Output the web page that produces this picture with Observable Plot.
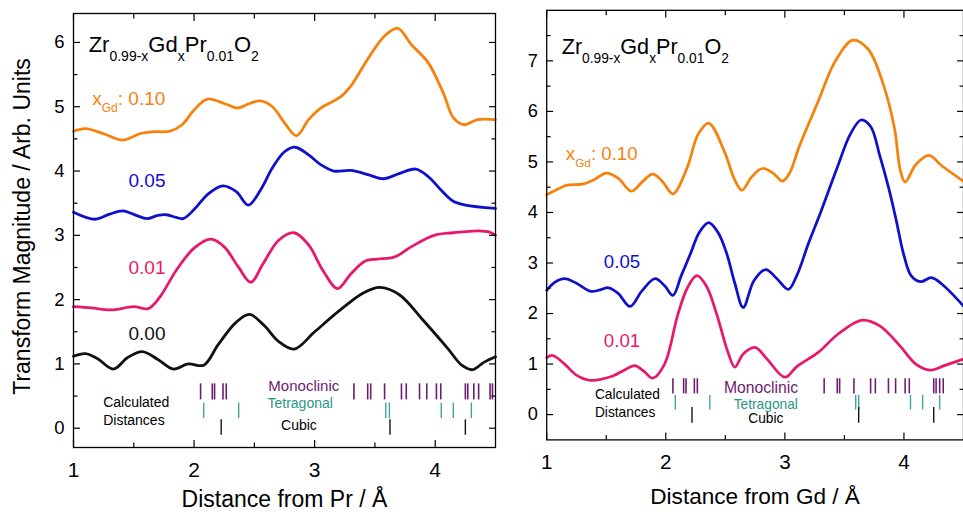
<!DOCTYPE html>
<html><head><meta charset="utf-8">
<script src="https://cdn.jsdelivr.net/npm/d3@7"></script>
<script src="https://cdn.jsdelivr.net/npm/@observablehq/plot@0.6"></script>
<style>
html,body{margin:0;padding:0;background:#fff;overflow:hidden;}
#wrap{position:relative;width:963px;height:517px;overflow:hidden;}
#left,#right{position:absolute;top:0;}
#left{left:0px} #right{left:500px}
</style></head><body><div id="wrap"><div id="left"></div><div id="right"></div></div>
<script>
// ---------- Left panel: distance from Pr ----------
const prDist010 = [1.0,1.1,1.25,1.41,1.55,1.65,1.8,1.9,2.0,2.11,2.25,2.36,2.46,2.55,2.65,2.75,2.85,2.95,3.05,3.15,3.22,3.3,3.45,3.58,3.69,3.8,3.94,4.07,4.15,4.24,4.35,4.5];
const prMag010  = [4.62,4.66,4.58,4.48,4.58,4.61,4.62,4.72,4.95,5.12,5.05,4.98,5.05,5.09,5.0,4.75,4.55,4.8,4.98,5.08,5.16,5.32,5.77,6.1,6.22,5.97,5.69,5.2,4.83,4.72,4.8,4.8];
const prDist005 = [1.0,1.18,1.3,1.41,1.52,1.61,1.7,1.77,1.85,1.91,2.0,2.12,2.24,2.35,2.45,2.55,2.65,2.75,2.84,2.95,3.05,3.16,3.3,3.45,3.57,3.7,3.84,3.95,4.05,4.15,4.25,4.5];
const prMag005  = [3.36,3.25,3.33,3.38,3.31,3.26,3.31,3.32,3.28,3.26,3.4,3.65,3.77,3.68,3.47,3.7,4.05,4.3,4.37,4.25,4.1,4.0,4.01,3.94,3.88,3.96,4.03,3.9,3.7,3.53,3.47,3.42];
const prDist001 = [1.0,1.15,1.31,1.5,1.62,1.72,1.85,2.0,2.14,2.25,2.37,2.47,2.57,2.7,2.83,2.95,3.07,3.19,3.3,3.42,3.52,3.66,3.8,3.99,4.15,4.36,4.45,4.5];
const prMag001  = [1.89,1.87,1.84,1.89,1.86,2.05,2.45,2.8,2.94,2.82,2.5,2.27,2.55,2.92,3.04,2.85,2.45,2.17,2.4,2.6,2.63,2.66,2.82,3.0,3.04,3.07,3.05,3.0];
const prDist000 = [1.0,1.1,1.2,1.33,1.45,1.57,1.7,1.83,1.95,2.08,2.2,2.35,2.46,2.58,2.7,2.83,3.0,3.2,3.4,3.54,3.7,3.9,4.1,4.22,4.31,4.4,4.5];
const prMag000  = [1.12,1.16,1.08,0.92,1.1,1.19,1.07,0.92,1.0,0.98,1.3,1.65,1.77,1.6,1.35,1.23,1.5,1.82,2.1,2.19,2.08,1.68,1.25,0.98,0.91,1.02,1.11];

// ---------- Right panel: distance from Gd ----------
const gdDist010 = [1.0,1.1,1.17,1.3,1.4,1.5,1.6,1.71,1.8,1.89,1.97,2.06,2.18,2.27,2.36,2.49,2.58,2.64,2.72,2.81,2.9,2.98,3.04,3.12,3.28,3.42,3.57,3.7,3.83,3.92,3.97,4.01,4.1,4.21,4.32,4.5];
const gdMag010  = [4.35,4.47,4.54,4.56,4.65,4.78,4.68,4.42,4.6,4.76,4.62,4.37,4.89,5.54,5.77,5.22,4.64,4.44,4.7,4.87,4.78,4.62,4.78,5.3,6.2,6.98,7.41,7.23,6.51,5.67,4.83,4.6,4.95,5.13,4.92,4.62];
const gdDist005 = [1.0,1.07,1.15,1.25,1.37,1.45,1.52,1.6,1.7,1.8,1.91,1.99,2.06,2.13,2.21,2.28,2.36,2.44,2.51,2.58,2.65,2.74,2.84,2.93,3.03,3.1,3.2,3.3,3.44,3.55,3.64,3.72,3.8,3.87,3.93,4.0,4.06,4.14,4.23,4.32,4.5];
const gdMag005  = [2.46,2.62,2.69,2.6,2.44,2.47,2.51,2.4,2.14,2.45,2.69,2.55,2.36,2.75,3.2,3.6,3.8,3.6,3.2,2.6,2.12,2.65,2.87,2.7,2.48,2.75,3.4,4.0,4.89,5.55,5.83,5.7,5.1,4.5,3.9,3.15,2.75,2.63,2.71,2.58,2.15];
const gdDist001 = [1.0,1.05,1.15,1.25,1.36,1.55,1.65,1.74,1.82,1.89,1.99,2.1,2.18,2.26,2.34,2.43,2.52,2.58,2.65,2.75,2.85,3.0,3.1,3.28,3.45,3.65,3.8,3.97,4.1,4.22,4.35,4.5];
const gdMag001  = [1.13,1.17,1.0,0.78,0.68,0.76,0.88,0.97,0.85,0.72,1.0,1.97,2.5,2.75,2.55,1.97,1.25,0.94,1.2,1.33,1.1,0.74,0.95,1.23,1.6,1.87,1.75,1.35,1.0,0.88,0.98,1.1];

// ---------- Calculated distances (Å) ----------
const prMonoclinic = [2.054,2.151,2.17,2.24,2.267,3.326,3.44,3.465,3.58,3.72,3.76,3.87,3.93,4.01,4.046,4.25,4.27,4.32,4.36,4.455,4.475];
const prTetragonal = [2.08,2.37,3.59,3.62,4.05,4.15,4.30];
const prCubic      = [2.225,3.625,4.25];
const gdMonoclinic = [2.06,2.15,2.17,2.24,2.265,3.33,3.44,3.46,3.58,3.72,3.76,3.87,3.93,4.01,4.045,4.25,4.27,4.30,4.33];
const gdTetragonal = [2.08,2.37,3.595,3.62,4.055,4.157,4.30];
const gdCubic      = [2.22,3.62,4.25];

// tick labels
const xTicks = [1,2,3,4];
const xMinor = [1.5,2.5,3.5];
const prYTicks = [0,1,2,3,4,5,6];
const prYMinor = [0.5,1.5,2.5,3.5,4.5,5.5];
const gdYTicks = [0,1,2,3,4,5,6,7];
const gdYMinor = [0.5,1.5,2.5,3.5,4.5,5.5,6.5,7.5];

const colors = {"0.10":"#f6820d","0.05":"#1010cc","0.01":"#e8196b","0.00":"#111111"};
const monoColor = "#6e1c6e", tetraColor = "#2a9686", tetraTick = "#3aa898";
const FONT = "'Liberation Sans', Arial, Helvetica, sans-serif";

function table(xs, ys, key){ return xs.map((x,i)=>({x, y: ys[i], key})); }

function rich(svg, px, py, parts, fill){
  const t = d3.select(svg).append("text").attr("x",px).attr("y",py).attr("fill",fill)
    .attr("text-anchor","start").style("font-family",FONT);
  let cur = 0;
  for (const [txt,size,shift] of parts){
    t.append("tspan").attr("font-size",size).attr("dy",shift-cur).text(txt);
    cur = shift;
  }
}

function panel(opts){
  const {series, mono, tetra, cubic, rows, yDomain, yTicks, yMinor, width, marginLeft, marginRight, marginTop,
         labels, calcStart, calcMid, xLabel, xLabelDy} = opts;
  const lineData = series.flatMap(s => table(s.x, s.y, s.key));
  const tickAxes = (anchor, ticks, size) => anchor==="top"||anchor==="bottom"
    ? Plot.axisX({anchor, ticks, tickSize:-size, tickFormat:()=>"", label:null, strokeWidth:1.2})
    : Plot.axisY({anchor, ticks, tickSize:-size, tickFormat:()=>"", label:null, strokeWidth:1.2});
  const plot = Plot.plot({
    width, height:517, marginLeft, marginRight, marginTop, marginBottom:70,
    style:{fontFamily:FONT, color:"#000", background:"#fff"},
    x:{domain:[1,4.5]},
    y:{domain:yDomain},
    marks:[
      Plot.ruleX(mono, {x:d=>d, y1:rows.mono[0], y2:rows.mono[1], stroke:monoColor, strokeWidth:1.6}),
      Plot.ruleX(tetra, {x:d=>d, y1:rows.tetra[0], y2:rows.tetra[1], stroke:tetraTick, strokeWidth:1.4}),
      Plot.ruleX(cubic, {x:d=>d, y1:rows.cubic[0], y2:rows.cubic[1], stroke:"#111", strokeWidth:1.4}),
      Plot.line(lineData, {x:"x", y:"y", z:"key", stroke:d=>colors[d.key], strokeWidth:2.8, curve:"catmull-rom"}),
      Plot.text(labels, {x:"x", y:"y", text:"text", fill:d=>colors[d.text], fontSize:19, textAnchor:"start"}),
      Plot.text(calcStart, {x:"x", y:"y", text:"text", fill:"fill", fontSize:"size", textAnchor:"start"}),
      Plot.text(calcMid, {x:"x", y:"y", text:"text", fill:"fill", fontSize:"size", textAnchor:"middle"}),
      Plot.frame({stroke:"#000", strokeWidth:1.3}),
      Plot.axisX({anchor:"bottom", ticks:xTicks, tickSize:-7, tickPadding:22, fontSize:21, tickFormat:d=>String(d), label:null, strokeWidth:1.2}),
      tickAxes("bottom", xMinor, 4.5), tickAxes("top", xTicks, 7), tickAxes("top", xMinor, 4.5),
      Plot.axisY({anchor:"left", ticks:yTicks, tickSize:-7, tickPadding:16, fontSize:18.5, tickFormat:d=>String(d), label:null, strokeWidth:1.2}),
      tickAxes("left", yMinor, 4.5), tickAxes("right", yTicks, 7), tickAxes("right", yMinor, 4.5),
      Plot.text([xLabel], {frameAnchor:"bottom", text:d=>d, dy:xLabelDy, fontSize:23}),
      ...(opts.yLabel ? [Plot.text([opts.yLabel], {frameAnchor:"left", textAnchor:"middle", text:d=>d, rotate:-90, dx:-51, dy:-4, fontSize:23})] : [])
    ]
  });
  const sx = plot.scale("x"), sy = plot.scale("y");
  rich(plot, sx.apply(opts.formula.x), sy.apply(opts.formula.y),
    [["Zr",22,0],["0.99-x",14,9],["Gd",22,0],["x",14,9],["Pr",22,0],["0.01",14,9],["O",22,0],["2",14,9]], "#000");
  rich(plot, sx.apply(opts.xgd.x), sy.apply(opts.xgd.y),
    [["x",19,0],["Gd",12,7],[": 0.10",19,0]], colors["0.10"]);
  return plot;
}

const left = panel({
  series:[{key:"0.10",x:prDist010,y:prMag010},{key:"0.05",x:prDist005,y:prMag005},
          {key:"0.01",x:prDist001,y:prMag001},{key:"0.00",x:prDist000,y:prMag000}],
  mono:prMonoclinic, tetra:prTetragonal, cubic:prCubic,
  rows:{mono:[0.44,0.69], tetra:[0.15,0.39], cubic:[-0.11,0.13]},
  yDomain:[-0.3,6.45], yTicks:prYTicks, yMinor:prYMinor,
  width:500, marginLeft:73, marginRight:5, marginTop:13,
  labels:[{x:1.456,y:3.84,text:"0.05"},{x:1.456,y:2.50,text:"0.01"},{x:1.456,y:1.47,text:"0.00"}],
  calcStart:[{x:1.246,y:0.40,text:"Calculated",fill:"#000",size:14},
             {x:1.246,y:0.12,text:"Distances",fill:"#000",size:14}],
  calcMid:[{x:2.91,y:0.65,text:"Monoclinic",fill:monoColor,size:15},
           {x:2.88,y:0.38,text:"Tetragonal",fill:tetraColor,size:14},
           {x:2.87,y:0.04,text:"Cubic",fill:"#000",size:14}],
  xLabel:"Distance from Pr / Å", xLabelDy:59,
  yLabel:"Transform Magnitude / Arb. Units",
  formula:{x:1.13,y:5.84}, xgd:{x:1.16,y:5.02}
});
document.getElementById("left").appendChild(left);

const right = panel({
  series:[{key:"0.10",x:gdDist010,y:gdMag010},{key:"0.05",x:gdDist005,y:gdMag005},
          {key:"0.01",x:gdDist001,y:gdMag001}],
  mono:gdMonoclinic, tetra:gdTetragonal, cubic:gdCubic,
  rows:{mono:[0.41,0.71], tetra:[0.09,0.38], cubic:[-0.17,0.14]},
  yDomain:[-0.5,8], yTicks:gdYTicks, yMinor:gdYMinor,
  width:471, marginLeft:47, marginRight:0, marginTop:10,
  labels:[{x:1.48,y:3.02,text:"0.05"},{x:1.48,y:1.46,text:"0.01"}],
  calcStart:[{x:1.405,y:0.39,text:"Calculated",fill:"#000",size:14},
             {x:1.405,y:0.045,text:"Distances",fill:"#000",size:14}],
  calcMid:[{x:2.80,y:0.53,text:"Monoclinic",fill:monoColor,size:16},
           {x:2.84,y:0.20,text:"Tetragonal",fill:tetraColor,size:14},
           {x:2.84,y:-0.07,text:"Cubic",fill:"#000",size:14}],
  xLabel:"Distance from Gd / Å", xLabelDy:65,
  formula:{x:1.13,y:7.13}, xgd:{x:1.165,y:5.03}
});
document.getElementById("right").appendChild(right);
</script></body></html>
